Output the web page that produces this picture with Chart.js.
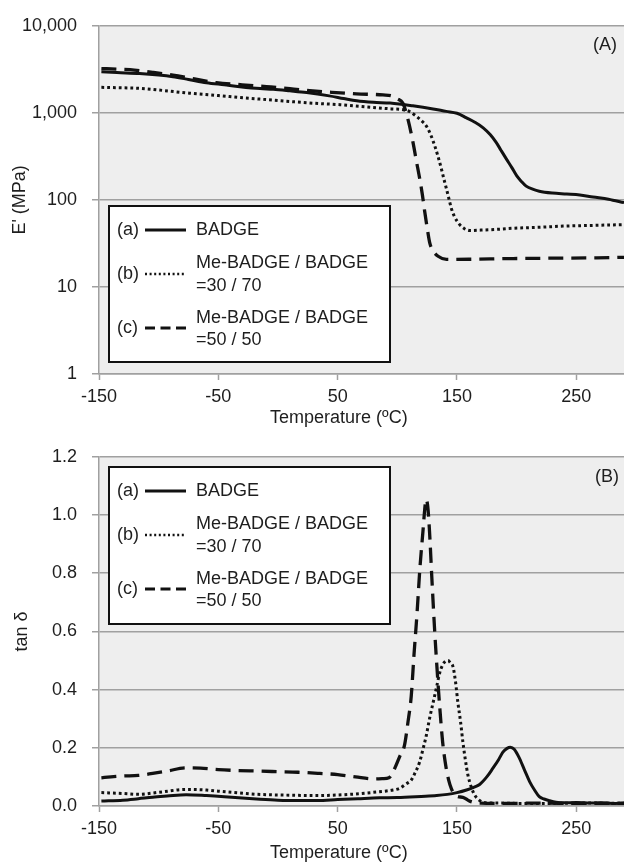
<!DOCTYPE html>
<html>
<head>
<meta charset="utf-8">
<script src="https://cdn.jsdelivr.net/npm/chart.js@4.4.1/dist/chart.umd.min.js"></script>
<style>
  html, body { margin: 0; padding: 0; background: #ffffff; }
  .panel { position: relative; width: 624px; height: 431px; }
</style>
</head>
<body>
<div class="panel"><canvas id="modulus"></canvas></div>
<div class="panel"><canvas id="tandelta"></canvas></div>
<script>
// tick labels
const tempTicks = [-150, -50, 50, 150, 250];
const modulusTicks = [1, 10, 100, 1000, 10000];
const tanTicks = [0, 0.2, 0.4, 0.6, 0.8, 1.0, 1.2];

// legend text
const legendTags = ["(a)", "(b)", "(c)"];
const legendNames = [["BADGE"], ["Me-BADGE / BADGE", "=30 / 70"], ["Me-BADGE / BADGE", "=50 / 50"]];

// (A) storage modulus E' (MPa)
const tempA_E = [-148, -135, -116, -100, -88, -75, -60, -45, -32, -15, -4, 10, 24, 43, 55, 66, 80, 94, 113, 130, 141, 150, 158, 165, 172, 178, 183, 187, 191.5, 196, 200, 204, 208, 214, 219, 230, 242, 253, 264, 277, 290];
const modulusA = [2960, 2900, 2830, 2720, 2600, 2420, 2220, 2100, 2000, 1900, 1865, 1790, 1710, 1566, 1460, 1374, 1320, 1294, 1205, 1110, 1040, 990, 875, 780, 673, 560, 455, 370, 294, 235, 190, 163, 144, 132, 126, 120, 117, 114, 108, 102, 93];

const tempB_E = [-148, -130, -116, -95, -74, -50, -32, -10, 10, 30, 52, 75, 95, 105, 110, 116, 120, 124.4, 128, 131.4, 134, 137, 139, 141.2, 143.5, 145.4, 148, 152.3, 156, 160.7, 170, 185, 197, 220, 239, 265, 290];
const modulusB = [1963, 1940, 1914, 1800, 1680, 1580, 1500, 1420, 1350, 1290, 1240, 1170, 1110, 1087, 1040, 913, 820, 703, 560, 417, 320, 226, 175, 134, 100, 79, 64, 52, 47, 44.5, 45, 46, 47.2, 48.5, 50, 51, 52];

const tempC_E = [-148, -135, -124, -105, -88, -70, -51.6, -30, -9.7, 10, 26.6, 45, 65.8, 88, 96, 100, 104.6, 109, 113.2, 116, 118.8, 121, 123, 125, 127.2, 130, 134.2, 141.2, 160, 197, 230, 267, 290];
const modulusC = [3230, 3180, 3140, 2920, 2710, 2450, 2220, 2100, 2000, 1900, 1800, 1720, 1652, 1607, 1560, 1450, 1294, 836, 455, 280, 175, 115, 73, 48, 32, 26, 22.5, 20.7, 20.8, 21.2, 21.4, 21.6, 21.9];

// (B) tan delta
const tempA_T = [-148, -130, -117, -105, -93, -77, -60, -45, -33, -15, 0, 20, 33, 50, 67, 85, 100, 120, 133, 142, 150, 158, 165, 169, 175, 180, 185, 188.5, 192, 194.7, 198, 202.5, 207, 211, 215, 219, 223, 227.7, 233, 240, 250, 260, 270, 280, 290];
const tanA = [0.017, 0.02, 0.025, 0.03, 0.034, 0.039, 0.036, 0.032, 0.028, 0.023, 0.02, 0.019, 0.019, 0.022, 0.025, 0.028, 0.029, 0.033, 0.036, 0.04, 0.046, 0.055, 0.066, 0.074, 0.1, 0.129, 0.16, 0.185, 0.198, 0.202, 0.195, 0.163, 0.12, 0.083, 0.055, 0.032, 0.024, 0.018, 0.013, 0.011, 0.012, 0.01, 0.011, 0.009, 0.01];

const tempB_T = [-148, -130, -117, -100, -77, -60, -50, -33, -17, 0, 33, 60, 85, 95, 102, 107, 111.7, 115, 118.7, 121.5, 124.3, 127, 130, 133, 135.5, 138, 140.5, 142.5, 144.5, 146.6, 148.7, 150.8, 153, 155, 157, 159.2, 162, 164.8, 168, 171.8, 178, 185.8, 200, 230, 260, 290];
const tanB = [0.046, 0.043, 0.04, 0.047, 0.057, 0.055, 0.051, 0.045, 0.04, 0.038, 0.036, 0.04, 0.049, 0.054, 0.061, 0.075, 0.089, 0.115, 0.151, 0.195, 0.242, 0.3, 0.355, 0.41, 0.457, 0.485, 0.498, 0.5, 0.492, 0.48, 0.43, 0.355, 0.29, 0.219, 0.16, 0.106, 0.065, 0.038, 0.022, 0.013, 0.01, 0.01, 0.009, 0.009, 0.01, 0.009];

const tempC_T = [-148, -140, -130, -117, -105, -93, -77, -65, -50, -35, -17, 0, 17, 35, 50, 65, 80, 88, 93, 97.8, 102, 106, 109, 111.7, 114, 116.5, 119, 121.5, 123, 124, 125.5, 127, 129, 131.3, 133.5, 135.5, 138, 141, 143, 145.3, 148, 150.8, 155, 160, 163.4, 170, 190, 220, 250, 290];
const tanC = [0.097, 0.1, 0.103, 0.105, 0.112, 0.12, 0.131, 0.13, 0.125, 0.122, 0.12, 0.118, 0.116, 0.112, 0.108, 0.1, 0.093, 0.094, 0.097, 0.129, 0.17, 0.208, 0.29, 0.378, 0.52, 0.66, 0.82, 0.944, 1.02, 1.054, 1.03, 0.944, 0.78, 0.604, 0.46, 0.344, 0.22, 0.129, 0.09, 0.06, 0.04, 0.032, 0.03, 0.018, 0.013, 0.01, 0.009, 0.01, 0.009, 0.009];

const FONT = "'Liberation Sans', Arial, sans-serif";
const INK = "#111111";
const TEXT = "#1e1e1e";
const GRID = "#a0a0a0";

Chart.defaults.font.family = FONT;
Chart.defaults.font.size = 18;
Chart.defaults.color = TEXT;

const lineStyles = [
  { dash: [], width: 3 },
  { dash: [2.8, 3], width: 3 },
  { dash: [15, 8], width: 3.3 },
];
const legendStyles = [
  { dash: [], width: 2.8 },
  { dash: [2, 2.6], width: 2.4 },
  { dash: [10, 5.5], width: 2.8 },
];

function toPoints(xs, ys) {
  return xs.map((x, i) => ({ x: x, y: ys[i] }));
}

function makeDataset(xs, ys, k) {
  return {
    data: toPoints(xs, ys),
    borderColor: INK,
    borderWidth: lineStyles[k].width,
    borderDash: lineStyles[k].dash,
    pointRadius: 0,
    cubicInterpolationMode: "monotone",
    fill: false,
  };
}

// background of plot area, legend box, panel tag and x-axis title
const panelDecor = {
  id: "panelDecor",
  beforeDraw(chart) {
    const { ctx, chartArea: a } = chart;
    ctx.save();
    ctx.fillStyle = "#eeeeee";
    ctx.fillRect(a.left, a.top, a.right - a.left, a.bottom - a.top);
    ctx.restore();
  },
  afterDraw(chart, args, opts) {
    const ctx = chart.ctx;
    const b = opts.box;
    ctx.save();
    ctx.fillStyle = "#ffffff";
    ctx.fillRect(b.left, b.top, b.width, b.height);
    ctx.strokeStyle = INK;
    ctx.lineWidth = 2;
    ctx.setLineDash([]);
    ctx.strokeRect(b.left, b.top, b.width, b.height);

    ctx.font = "18px " + FONT;
    ctx.fillStyle = TEXT;
    ctx.textBaseline = "middle";
    ctx.textAlign = "left";
    const rows = [
      { y: 24, text: [24] },
      { y: 68, text: [57, 80] },
      { y: 122, text: [112, 134] },
    ];
    rows.forEach((row, i) => {
      const y = b.top + row.y;
      ctx.fillText(legendTags[i], b.left + 8, y);
      ctx.beginPath();
      ctx.lineWidth = legendStyles[i].width;
      ctx.setLineDash(legendStyles[i].dash);
      ctx.strokeStyle = INK;
      ctx.moveTo(b.left + 36, y);
      ctx.lineTo(b.left + 77, y);
      ctx.stroke();
      ctx.setLineDash([]);
      legendNames[i].forEach((line, j) => {
        ctx.fillText(line, b.left + 87, b.top + row.text[j]);
      });
    });

    ctx.textAlign = "center";
    ctx.fillText(opts.tag, opts.tagX, opts.tagY);
    const xs = chart.scales.x;
    ctx.fillText("Temperature (\u00baC)", xs.getPixelForValue(opts.xTitleAt), opts.xTitleY);
    ctx.restore();
  },
};

function xScale(axisHeight) {
  return {
    type: "linear",
    min: -150,
    max: 290,
    afterBuildTicks: (s) => { s.ticks = tempTicks.map((v) => ({ value: v })); },
    afterFit: (s) => { s.height = axisHeight; },
    grid: { display: true, drawOnChartArea: false, drawTicks: true, tickLength: 6, tickColor: GRID, tickWidth: 1.5 },
    border: { display: true, color: GRID, width: 1.5 },
    ticks: { color: TEXT, padding: 6, maxRotation: 0, autoSkip: false },
  };
}

new Chart(document.getElementById("modulus"), {
  type: "line",
  data: {
    datasets: [
      makeDataset(tempA_E, modulusA, 0),
      makeDataset(tempB_E, modulusB, 1),
      makeDataset(tempC_E, modulusC, 2),
    ],
  },
  options: {
    responsive: true,
    maintainAspectRatio: false,
    animation: false,
    layout: { padding: { top: 22, left: 0, right: 0, bottom: 0 } },
    scales: {
      x: xScale(57),
      y: {
        type: "logarithmic",
        min: 1,
        max: 10000,
        afterBuildTicks: (s) => { s.ticks = modulusTicks.map((v) => ({ value: v })); },
        afterFit: (s) => { s.width = 99; },
        grid: { color: GRID, lineWidth: 1.5, tickLength: 7, tickColor: GRID },
        border: { display: true, color: GRID, width: 1.5 },
        ticks: { color: TEXT, padding: 15, callback: (v) => Number(v).toLocaleString("en-US") },
        title: { display: true, text: "E' (MPa)", color: TEXT, padding: { top: 9, bottom: 0 } },
      },
    },
    plugins: {
      legend: { display: false },
      tooltip: { enabled: false },
      panelDecor: {
        box: { left: 109, top: 206, width: 281, height: 156 },
        tag: "(A)", tagX: 605, tagY: 45,
        xTitleAt: 51, xTitleY: 418,
      },
    },
  },
  plugins: [panelDecor],
});

new Chart(document.getElementById("tandelta"), {
  type: "line",
  data: {
    datasets: [
      makeDataset(tempA_T, tanA, 0),
      makeDataset(tempB_T, tanB, 1),
      makeDataset(tempC_T, tanC, 2),
    ],
  },
  options: {
    responsive: true,
    maintainAspectRatio: false,
    animation: false,
    layout: { padding: { top: 25, left: 0, right: 0, bottom: 0 } },
    scales: {
      x: xScale(56),
      y: {
        type: "linear",
        min: 0,
        max: 1.2,
        afterBuildTicks: (s) => { s.ticks = tanTicks.map((v) => ({ value: v })); },
        afterFit: (s) => { s.width = 99; },
        grid: { color: GRID, lineWidth: 1.5, tickLength: 7, tickColor: GRID },
        border: { display: true, color: GRID, width: 1.5 },
        ticks: { color: TEXT, padding: 15, callback: (v) => Number(v).toFixed(1) },
        title: { display: true, text: "tan \u03b4", color: TEXT, padding: { top: 11, bottom: 0 } },
      },
    },
    plugins: {
      legend: { display: false },
      tooltip: { enabled: false },
      panelDecor: {
        box: { left: 109, top: 36, width: 281, height: 157 },
        tag: "(B)", tagX: 607, tagY: 46,
        xTitleAt: 51, xTitleY: 422,
      },
    },
  },
  plugins: [panelDecor],
});
</script>
</body>
</html>
